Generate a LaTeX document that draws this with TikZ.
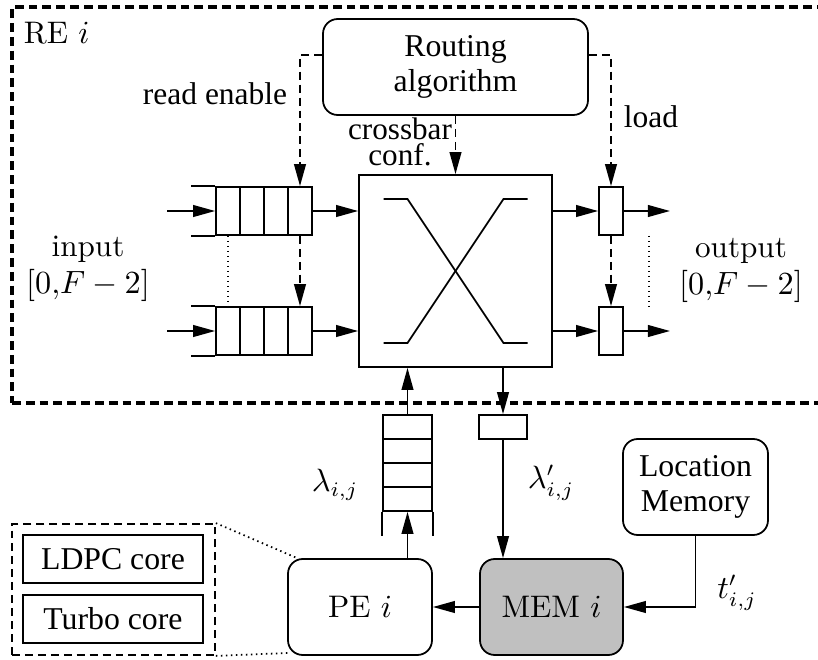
\documentclass[tikz,border=0pt]{standalone}
\usepackage{fontspec}
\setmainfont{Liberation Serif}
\newfontfamily\lmr{Latin Modern Roman}
\usepackage{tikz}
\usetikzlibrary{arrows.meta,positioning,calc}
\definecolor{memcolor}{HTML}{C0C0C0}
\newcommand\pxl[1]{#1*0.34pt}

\begin{document}
\begin{tikzpicture}[x=0.34pt,y=-0.34pt,line width=0.6pt,
    >={Triangle[length=7.5pt,width=4pt]},
    qcell/.style={draw,inner sep=0pt,minimum width=\pxl{24},minimum height=\pxl{48}},
    lcell/.style={draw,inner sep=0pt,minimum width=\pxl{49},minimum height=\pxl{24}},
    rbox/.style={draw,rounded corners=5pt,inner sep=0pt,align=center},
    ctl/.style={dash pattern=on 2.7pt off 1.7pt},
    dots/.style={dash pattern=on 0.5pt off 1.2pt},
    tnr/.style 2 args={font=\rmfamily\fontsize{#1}{#2}\selectfont},
    cm/.style 2 args={font=\lmr\fontsize{#1}{#2}\selectfont}]
  \useasboundingbox (0,0) rectangle (818,660);

  % router element frame
  \node[draw,line width=1.1pt,dash pattern=on 3pt off 1.7pt,inner sep=0pt,
        minimum width=\pxl{810},minimum height=\pxl{396}] (re) at (417,205) {};
  \node[cm={10.6}{12},anchor=west,inner sep=0pt] (relabel) at (23,33) {RE $i$};

  \node[rbox,tnr={10.8}{11.9},minimum width=\pxl{265},minimum height=\pxl{96}]
        (route) at (455.5,67) {Routing\\algorithm};

  % crossbar
  \node[draw,minimum width=\pxl{193},minimum height=\pxl{192}] (xbar) at (455.5,271) {};
  \draw ($(xbar)+(-72,-72)$) -- ++(24,0) -- ++(96,144) -- ++(24,0);
  \draw ($(xbar)+(-72,72)$) -- ++(24,0) -- ++(96,-144) -- ++(24,0);

  % input queues and output buffers
  \foreach \q/\y in {a/211,b/331} {
    \foreach \k in {1,...,4}
      \node[qcell] (q\q\k) at (204+24*\k,\y) {};
    \draw (q\q1.north west) -- ++(-24,0);
    \draw (q\q1.south west) -- ++(-24,0);
    \coordinate (in\q) at (167,\y);
    \draw[->] (in\q) -- (q\q1.west);
    \draw[->] (q\q4.east) -- (q\q4.east -| xbar.west);
    \node[qcell] (o\q) at (611,\y) {};
    \draw[->] (xbar.east |- o\q.west) -- (o\q.west);
    \coordinate (out\q) at (670,\y);
    \draw[->] (o\q.east) -- (out\q);
  }
  \draw[dots] (qa1.south) -- (qb1.north);
  \draw[ctl,->] (qa4.south) -- (qb4.north);
  \draw[ctl,->] (oa.south) -- (ob.north);
  \draw[dots] ($(oa.south east)+(25,0)$) -- ($(ob.north east)+(25,0)$);

  \node[cm={10.6}{12.6},align=center] (inlabel) at (88,269) {input\\$[0{,}F-2]$};
  \node[cm={10.6}{12.6},align=center] (outlabel) at (741,270) {output\\$[0{,}F-2]$};

  % control signals
  \draw[ctl,->] ($(route.west)+(0,-12)$) -| (qa4.north);
  \node[tnr={10.7}{12},anchor=east,inner sep=0pt] (rdlabel) at (288,94) {read enable};
  \draw[ctl,->] ($(route.east)+(0,-12)$) -| (oa.north);
  \node[tnr={10.7}{12},anchor=west,inner sep=0pt] (ldlabel) at (623,117) {load};
  \draw[ctl,->] (route.south) -- (xbar.north);
  \node[tnr={10.6}{8.6},align=center,inner sep=0pt] (cblabel) at (400,142) {crossbar\\conf.};

  % processing side
  \foreach \k in {1,...,4}
    \node[lcell] (lam\k) at (407.5,403+24*\k) {};
  \draw (lam4.south west) -- ++(0,24);
  \draw (lam4.south east) -- ++(0,24);
  \node[lcell,minimum width=\pxl{48}] (lb) at (503,427) {};

  \node[rbox,cm={10.6}{13},minimum width=\pxl{144},minimum height=\pxl{96}]
        (pe) at (360,607) {PE $i$};
  \node[rbox,cm={10.6}{13},fill=memcolor,minimum width=\pxl{143},minimum height=\pxl{96}]
        (mem) at (551.5,607) {MEM $i$};
  \node[rbox,tnr={10.8}{11.9},minimum width=\pxl{145},minimum height=\pxl{96}]
        (loc) at (695.5,487) {Location\\Memory};

  \draw[->] (lam4.south |- pe.north) -- (lam4.south);
  \draw[->] (lam1.north) -- (lam1.north |- xbar.south);
  \draw[->] (xbar.south -| lb.north) -- (lb.north);
  \draw[->] (lb.south) -- (lb.south |- mem.north);
  \draw[->] (mem.west) -- (pe.east);
  \draw[->] (loc.south) |- (mem.east);

  \node[cm={10.6}{12}] (lamlabel) at (335,485) {$\lambda_{i,j}$};
  \node[cm={10.6}{12}] (lamplabel) at (551,483) {$\lambda'_{i,j}$};
  \node[cm={10.6}{12}] (tlabel) at (737,593) {$t'_{i,j}$};

  % decoder cores
  \node[draw,ctl,minimum width=\pxl{203},minimum height=\pxl{131}] (cores) at (113.5,589.5) {};
  \node[draw,tnr={10.8}{13},minimum width=\pxl{180},minimum height=\pxl{48}]
        (ldpc) at (113,559) {LDPC core};
  \node[draw,tnr={10.8}{13},minimum width=\pxl{180},minimum height=\pxl{48}]
        (turbo) at (113,619) {Turbo core};
  \draw[dots] (cores.north east) -- ($(pe.north west)+(10,0)$);
  \draw[dots] (cores.south east) -- ($(pe.south west)+(3,-3)$);
\end{tikzpicture}
\end{document}
